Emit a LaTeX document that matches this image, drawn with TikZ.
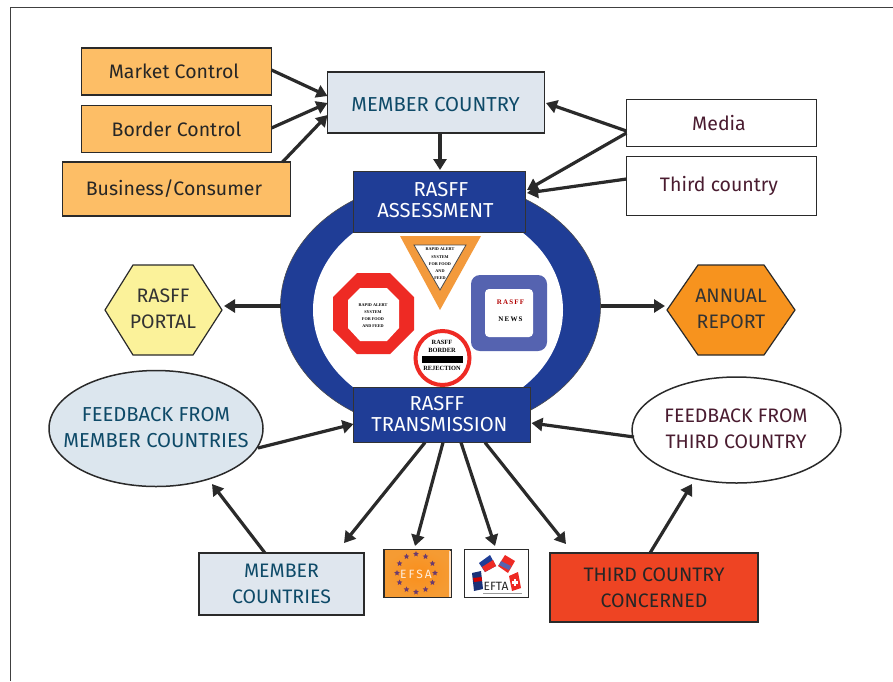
\documentclass[tikz,border=0pt]{standalone}
\usepackage{fontspec}
\setmainfont{Fira Sans}
\newfontfamily\iconfont{Liberation Serif}
\usetikzlibrary{shapes.geometric,arrows.meta,calc}
\definecolor{boxorange}{HTML}{FDBE66}
\definecolor{ringblue}{HTML}{1F3D96}
\definecolor{paleblue}{HTML}{DFE6EE}
\definecolor{pale2}{HTML}{DCE6EE}
\definecolor{tealtxt}{HTML}{0E4A68}
\definecolor{wine}{HTML}{4A1C30}
\definecolor{dk}{HTML}{2A2A2A}
\definecolor{tri}{HTML}{F39A3C}
\definecolor{octred}{HTML}{EE2A24}
\definecolor{newsblue}{HTML}{5563B0}
\definecolor{hexy}{HTML}{FBF29A}
\definecolor{hexo}{HTML}{F7931E}
\definecolor{redbox}{HTML}{EE4423}
\definecolor{efsaor}{HTML}{F59B33}
\definecolor{starc}{HTML}{6B3A6E}
\tikzset{
 x=1pt,y=-1pt,
 every node/.style={inner sep=0pt,outer sep=0pt,align=center},
 lbl/.style={font=\fontsize{19.5}{26}\selectfont},
 lblw/.style={font=\fontsize{20.2}{26}\selectfont},
 lblt/.style={font=\fontsize{20.2}{21}\selectfont},
 orangebox/.style={draw=dk,line width=1.5pt,fill=boxorange,lbl,text=black!85},
 whitebox/.style={draw=dk,line width=1.5pt,fill=white,lbl,text=wine},
 palebox/.style={draw=dk,line width=1.5pt,fill=paleblue,lbl,text=tealtxt},
 bluebox/.style={draw=black!80,line width=1.5pt,fill=ringblue,lblt,text=white},
 oval/.style={draw=dk,line width=1.5pt},
 conn/.style={draw=dk,line width=3.2pt,-{Triangle[length=11pt,width=13pt]}},
 tiny/.style={font=\iconfont\bfseries\fontsize{4.2}{7.2}\selectfont,text=black},
 news/.style={font=\iconfont\bfseries\fontsize{7}{8}\selectfont},
 rejt/.style={font=\iconfont\bfseries\fontsize{6.4}{8}\selectfont,text=black},
}
\begin{document}
\begin{tikzpicture}
\useasboundingbox (0,0) rectangle (893,681);
\fill[white] (0,0) rectangle (893,681);
\draw[black!75,line width=1pt] (10,681) -- (10,7.5) -- (893,7.5);

% ring
\node[ellipse,fill=ringblue,draw=black!70,line width=.6pt,minimum width=320pt,minimum height=252pt] (ring) at (440.5,306) {};
\node[ellipse,fill=white,minimum width=250pt,minimum height=210pt] (hole) at (438,310) {};

% boxes
\node[orangebox,minimum width=190pt,minimum height=47pt] (market) at (176.5,71.5) {\hspace*{-5pt}Market Control};
\node[orangebox,minimum width=190pt,minimum height=47pt] (border) at (176.5,129) {Border Control};
\node[orangebox,minimum width=228pt,minimum height=54pt] (business) at (176.5,189) {\hspace*{-5pt}Business/Consumer};
\node[draw=dk,line width=1.5pt,fill=paleblue,minimum width=217pt,minimum height=61pt] (member) at (436,102.5) {};
\node[lblw,text=tealtxt] (membertxt) at (435.5,104.5) {MEMBER COUNTRY};
\node[whitebox,minimum width=190pt,minimum height=47pt] (media) at (721.5,123) {\hspace*{-5pt}Media};
\node[whitebox,minimum width=190pt,minimum height=59pt] (third) at (721.5,186) {\hspace*{-5pt}Third country};
\node[bluebox,minimum width=172pt,minimum height=61pt] (assess) at (439.5,202) {};
\node[lblt,text=white] (assesstxt) at (435.5,200.5) {\hspace*{11pt}RASFF\\ASSESSMENT};
\node[bluebox,minimum width=177pt,minimum height=55pt] (trans) at (442,415) {};
\node[lblt,text=white] (transtxt) at (439.5,414.5) {\hspace*{-5pt}RASFF\\TRANSMISSION};

\path[draw=dk,line width=1.2pt,fill=hexy] (105,310) -- (133,265) -- (193,265) -- (222,310) -- (193,355) -- (133,355) -- cycle;
\node[lbl,text=black!80] (portal) at (163,309) {RASFF\\PORTAL};
\path[draw=dk,line width=1.2pt,fill=hexo] (667,310) -- (698,265) -- (764,265) -- (795,310) -- (764,355) -- (698,355) -- cycle;
\node[lbl,text=black!80] (annual) at (731,309) {ANNUAL\\REPORT};

\node[oval,ellipse,fill=pale2,minimum width=214pt,minimum height=116pt] (fbm) at (156,428.5) {};
\node[lblw,text=tealtxt] (fbmtxt) at (156,427.5) {FEEDBACK FROM\\MEMBER COUNTRIES};
\node[oval,ellipse,fill=white,minimum width=209pt,minimum height=106pt] (fbt) at (736.5,430) {};
\node[lbl,text=wine] (fbttxt) at (736,429) {FEEDBACK FROM\\THIRD COUNTRY};

\node[palebox,minimum width=165pt,minimum height=62pt] (mcs) at (281.5,584) {MEMBER\\COUNTRIES};
\node[draw=dk,line width=1.5pt,shade,inner color=orange!45!efsaor,outer color=efsaor,minimum width=67pt,minimum height=48pt] (efsa) at (417.5,573.5) {};
\fill[white!75!orange] (449,550.5) rectangle (451,597);
\node[draw=dk,line width=1.5pt,fill=white,minimum width=64pt,minimum height=48pt] (efta) at (496.5,573.5) {};
\node[draw=dk,line width=1.5pt,fill=redbox,text=black!85,lbl,minimum width=208pt,minimum height=69pt] (tcc) at (654,587.5) {THIRD COUNTRY\\CONCERNED};

% icons
\path[fill=tri] (400,236) -- (481,236) -- (440,310) -- cycle;
\path[fill=white,draw=black!70,line width=.8pt] (414,245) -- (466,245) -- (440,290) -- cycle;
\node[tiny] (tritxt) at (440,264) {RAPID ALERT\\SYSTEM\\FOR FOOD\\AND\\FEED};
\path[fill=octred] (357,273) -- (390,273) -- (414,297) -- (414,330) -- (390,354) -- (357,354) -- (333,330) -- (333,297) -- cycle;
\path[fill=white] (360,288) -- (387,288) -- (399,300) -- (399,328) -- (387,341) -- (360,341) -- (348,328) -- (348,300) -- cycle;
\node[tiny] (octtxt) at (373,315.5) {RAPID ALERT\\SYSTEM\\FOR FOOD\\AND FEED};
\path[fill=newsblue,rounded corners=9pt] (471,275) rectangle (547,351);
\path[fill=white,rounded corners=4pt] (485,289) rectangle (533,337);
\node[news,text=red!70!black] (newsa) at (510.5,302) {R\,A\,S\,F\,F};
\node[news,text=black] (newsb) at (510.5,319) {N\,E\,W\,S};
\node[circle,fill=white,draw=octred,line width=4pt,minimum size=54pt] (rej) at (442.5,358) {};
\fill[black] (422,356) rectangle (463,363);
\node[rejt] (rejtop) at (442,346) {RASFF\\BORDER};
\node[rejt] (rejbot) at (442,368.5) {REJECTION};

% EFSA badge
\foreach \a [count=\i] in {0,30,...,330}
  \node[star,star points=5,star point ratio=2.2,fill=starc,minimum size=6pt] (s\i) at ($(416,573)+(\a:19pt and 19pt)$) {};
\node[font=\fontsize{12}{12}\selectfont,text=white!85!orange] (efsatxt) at (416,574) {E\,F\,S\,A};
% EFTA badge
\fill[ringblue!80!black] (472,573) -- (481,571) -- (483,589) -- (474,591) -- cycle;
\fill[red!80!black] (473,578) -- (481.5,577) -- (482,581) -- (474,582) -- cycle;
\fill[ringblue] (479,563) -- (490,555) -- (496,566) -- (485,572) -- cycle;
\fill[octred] (482,567) -- (493,560) -- (496,566) -- (485,572) -- cycle;
\fill[octred] (498,566) -- (505,555) -- (515,561) -- (508,573) -- cycle;
\fill[newsblue] (501,561) -- (511,566) -- (509,570) -- (499,565) -- cycle;
\fill[octred] (509,576) -- (518,572) -- (521,588) -- (512,591) -- cycle;
\fill[white] (511.5,581) rectangle (518,583.5);
\fill[white] (513.5,578.5) rectangle (516,586);
\fill[black!40] (483,593) rectangle (522,594);
\node[font=\fontsize{12}{12}\selectfont,text=black!85] (eftatxt) at (496,586.5) {EFTA};

% connectors
\draw[conn] ([yshift=1.5pt]market.east) -- ([yshift=6.5pt]member.west);
\draw[conn] ([yshift=1pt]border.east) -- ([yshift=-.5pt]member.west);
\draw[conn] ([xshift=106pt]business.north) -- ([yshift=-12.5pt]member.west);
\draw[conn] ([xshift=4pt]member.south) -- ([yshift=1.5pt,xshift=.5pt]assess.north);
\draw[conn] ([yshift=-8pt]media.west) -- ([yshift=-.5pt,xshift=1.5pt]member.east);
\draw[conn] ([yshift=-10pt]media.west) -- ([yshift=12pt,xshift=1.5pt]assess.east);
\draw[conn] ([yshift=7pt]third.west) -- ([yshift=9pt,xshift=1.5pt]assess.east);
\draw[conn] (ring.west) -- ($(portal)+(61,-3)$);
\draw[conn] (ring.east) -- ($(annual)+(-66,-3)$);
\draw[conn] ([xshift=102pt,yshift=-19.5pt]fbm.center) -- ([yshift=-9pt]trans.west);
\draw[conn] ([xshift=-102.5pt,yshift=-7pt]fbt.center) -- ([yshift=-8pt,xshift=1pt]trans.east);
\draw[conn] ([xshift=-17pt]trans.south) -- ([xshift=62.5pt,yshift=10pt]mcs.north);
\draw[conn] ([xshift=1pt]trans.south) -- ([xshift=-2.5pt,yshift=3.5pt]efsa.north);
\draw[conn] ([xshift=19pt]trans.south) -- ([xshift=-1.5pt,yshift=3.5pt]efta.north);
\draw[conn] ([xshift=43pt]trans.south) -- ([xshift=-88pt,yshift=9pt]tcc.north);
\draw[conn] ([xshift=-16.5pt]mcs.north) -- ([xshift=56pt,yshift=-55.5pt]fbm.center);
\draw[conn] ([xshift=-4pt]tcc.north) -- ([xshift=-44.5pt,yshift=-54pt]fbt.center);
\end{tikzpicture}
\end{document}
